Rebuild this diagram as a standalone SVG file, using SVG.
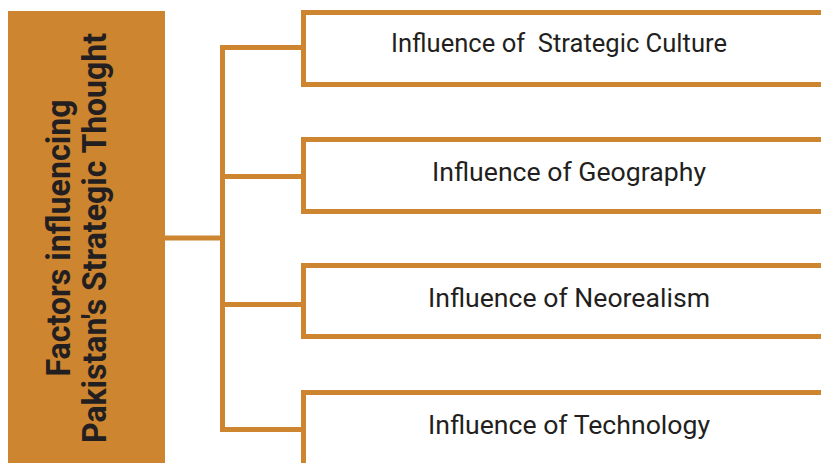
<svg xmlns="http://www.w3.org/2000/svg" width="821" height="463" viewBox="0 0 821 463">
  <style>
    .box { fill: #ffffff; stroke: #cd8530; stroke-width: 5; }
    .wire { fill: none; stroke: #cd8530; stroke-width: 5; }
    .label { font-family: Roboto, "Liberation Sans", sans-serif; font-size: 26.6px; fill: #231f20; white-space: pre; }
    .title { font-family: Roboto, "Liberation Sans", sans-serif; font-size: 33px; font-weight: bold; fill: #231f20; }
  </style>
  <rect width="821" height="463" fill="#ffffff"/>

  <!-- root node -->
  <g id="root">
    <rect x="8" y="11" width="157" height="460" fill="#cd8530"/>
    <text class="title" transform="translate(70 238) rotate(-90)" text-anchor="middle" textLength="277" lengthAdjust="spacingAndGlyphs">Factors influencing</text>
    <text class="title" transform="translate(106 238) rotate(-90)" text-anchor="middle" textLength="410" lengthAdjust="spacingAndGlyphs">Pakistan's Strategic Thought</text>
  </g>

  <!-- connectors -->
  <g id="connectors">
    <path class="wire" d="M165 238 H222.5"/>
    <path class="wire" d="M222.5 45 V431.5"/>
    <path class="wire" d="M220 47.5 H303.5"/>
    <path class="wire" d="M220 176.5 H303.5"/>
    <path class="wire" d="M220 304.5 H303.5"/>
    <path class="wire" d="M220 429.5 H303.5"/>
  </g>

  <g id="culture">
    <rect class="box" x="303.5" y="12.5" width="530" height="72"/>
    <text class="label" x="391" y="52" xml:space="preserve" textLength="336" lengthAdjust="spacingAndGlyphs">Influence of  Strategic Culture</text>
  </g>
  <g id="geography">
    <rect class="box" x="303.5" y="139.5" width="530" height="72"/>
    <text class="label" x="432" y="181" textLength="274" lengthAdjust="spacingAndGlyphs">Influence of Geography</text>
  </g>
  <g id="neorealism">
    <rect class="box" x="303.5" y="265.5" width="530" height="71"/>
    <text class="label" x="428" y="307" textLength="282" lengthAdjust="spacingAndGlyphs">Influence of Neorealism</text>
  </g>
  <g id="technology">
    <rect class="box" x="303.5" y="392.5" width="530" height="80"/>
    <text class="label" x="428" y="434" textLength="282" lengthAdjust="spacingAndGlyphs">Influence of Technology</text>
  </g>
</svg>
